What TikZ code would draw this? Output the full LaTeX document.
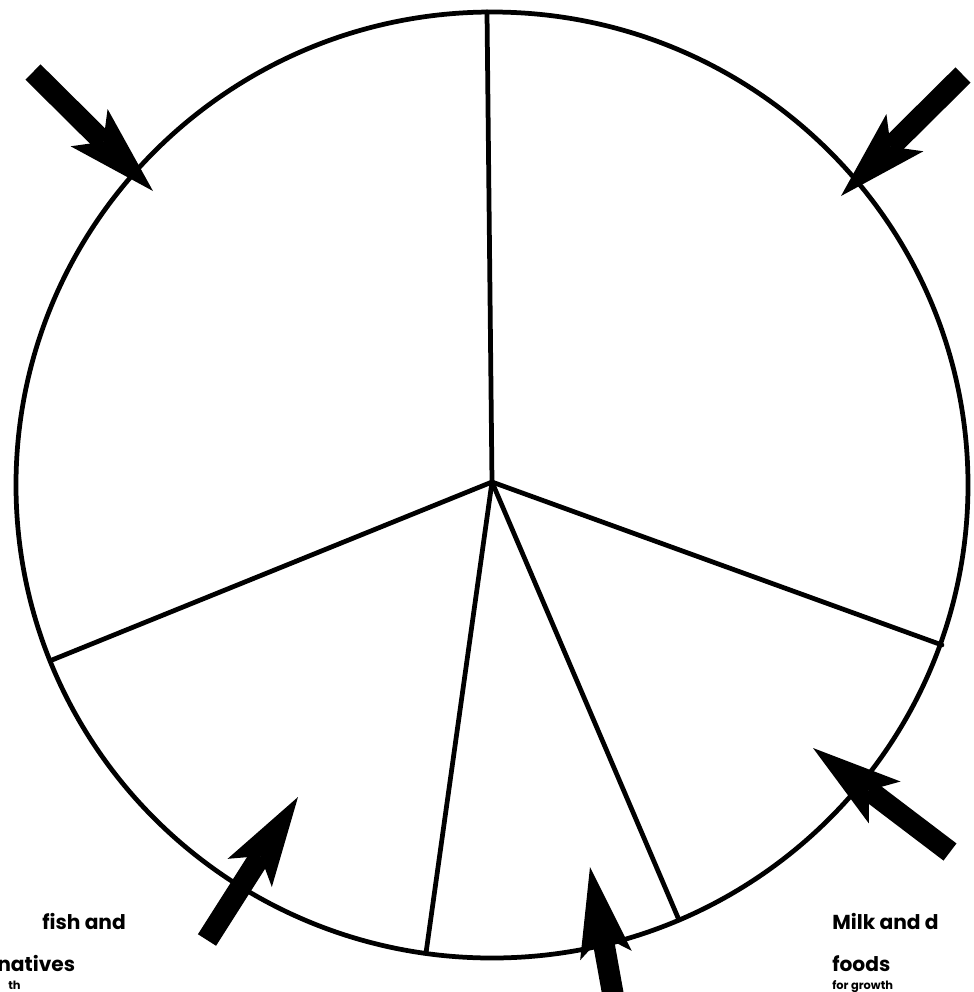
\documentclass[tikz,border=0pt]{standalone}
\usepackage{fontspec}
\setmainfont{Poppins}
\usetikzlibrary{arrows.meta}
\tikzset{
  outline/.style={line width=0.095cm, line cap=round},
  pointer/.style={line width=0.43cm, -{Stealth[length=1.8cm, width=1.05cm, inset=0.4cm, line width=0pt]}},
  label/.style={font=\bfseries\fontsize{11.5}{13}\selectfont, inner sep=0pt, anchor=base west},
  small/.style={font=\bfseries\fontsize{6.5}{8}\selectfont, inner sep=0pt, anchor=base west}
}
\begin{document}
\begin{tikzpicture}[x=0.02cm, y=-0.02cm]
\useasboundingbox (0,0) rectangle (974,992);
\fill[white] (0,0) rectangle (974,992);
% circle and spokes
\coordinate (c) at (492,482);
\coordinate (s1) at (487,12);
\coordinate (s2) at (52,660);
\coordinate (s3) at (426,953);
\coordinate (s4) at (679,920);
\coordinate (s5) at (942,645);
\draw[outline] (492,485) ellipse [x radius=476, y radius=473];
\draw[outline] (c) -- (s1);
\draw[outline] (c) -- (s2);
\draw[outline] (c) -- (s3);
\draw[outline] (c) -- (s4);
\draw[outline] (c) -- (s5);
% arrows
\coordinate (t1) at (33,72);   \coordinate (h1) at (153,191);
\coordinate (t2) at (963,75);  \coordinate (h2) at (841,196);
\coordinate (t3) at (950,852); \coordinate (h3) at (813,748);
\coordinate (t4) at (207,940); \coordinate (h4) at (298,797);
\coordinate (t5) at (614,1000);\coordinate (h5) at (590,867);
\draw[pointer] (t1) -- (h1);
\draw[pointer] (t2) -- (h2);
\draw[pointer] (t3) -- (h3);
\draw[pointer] (t4) -- (h4);
\draw[pointer] (t5) -- (h5);
% texts
\node[label] (l1) at (42,929) {fish and};
\node[label] (l2) at (-3,971) {natives};
\node[small] (l3) at (8,989) {th};
\node[label] (r1) at (832,929) {Milk and d};
\node[label] (r2) at (832,971) {foods};
\node[small] (r3) at (832,989) {for growth};
\end{tikzpicture}
\end{document}
